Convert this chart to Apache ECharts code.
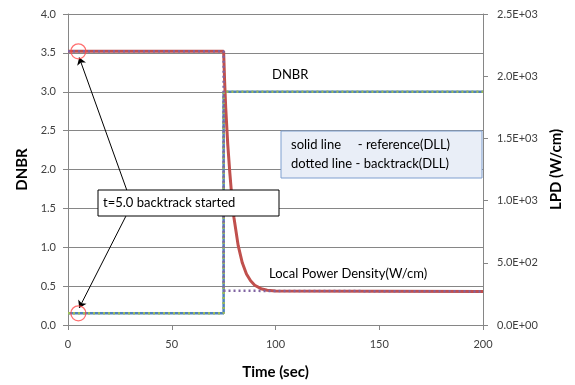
<!DOCTYPE html>
<html>
<head>
<meta charset="utf-8">
<script src="https://cdn.jsdelivr.net/npm/echarts@6/dist/echarts.min.js"></script>
<style>
  html, body { margin: 0; padding: 0; background: #fff; }
  #chart { width: 575px; height: 385px; }
</style>
</head>
<body>
<div id="chart"></div>
<script>
"use strict"

// 数据：时间 (sec)
let dnbrRefData = [[0, 0.15], [75, 0.15], [75, 3.0], [200, 3.0]];
let dnbrBackData = [[0, 0.15], [75, 0.15], [75, 3.0], [200, 3.0]];
let lpdRefData = [
    [0, 2200], [75, 2200], [75.5, 1950], [76, 1750], [77, 1450], [78, 1220],
    [79, 1020], [80, 860], [82, 640], [84, 500], [86, 410], [88, 355],
    [90, 320], [93, 292], [96, 280], [100, 273], [200, 270]
];
let lpdBackData = [[0, 2200], [75, 2200], [75, 275], [200, 270]];
// 回溯开始点 t=5.0
let startPoints = [[5, 3.52], [5, 0.15]];
let lpdTicks = ["0.0E+00", "5.0E+02", "1.0E+03", "1.5E+03", "2.0E+03", "2.5E+03"];

let myChart = echarts.init(document.getElementById("chart"));
let font = "Lato, 'Open Sans', sans-serif";
let axisColor = "#868686";

let option = {
    animation: false,
    textStyle: { fontFamily: font },
    grid: { left: 68, right: 92, top: 14, bottom: 60 },
    xAxis: {
        type: "value",
        min: 0, max: 200, interval: 50,
        name: "Time (sec)",
        nameLocation: "middle",
        nameGap: 40,
        nameTextStyle: { fontSize: 15, fontWeight: "bold", color: "#000" },
        axisLine: { lineStyle: { color: axisColor } },
        axisTick: { show: true, length: 5, lineStyle: { color: axisColor } },
        axisLabel: { fontSize: 11, color: "#404040", margin: 14 },
        splitLine: { show: false }
    },
    yAxis: [{
        type: "value",
        min: 0, max: 4, interval: 0.5,
        name: "DNBR",
        nameLocation: "middle",
        nameRotate: 90,
        nameGap: 38,
        nameTextStyle: { fontSize: 15, fontWeight: "bold", color: "#000" },
        axisLine: { show: true, lineStyle: { color: axisColor } },
        axisTick: { show: true, length: 5, lineStyle: { color: axisColor } },
        axisLabel: { fontSize: 11, color: "#404040", margin: 12, formatter: v => v.toFixed(1) },
        splitLine: { show: true, lineStyle: { color: axisColor, width: 1 } }
    }, {
        type: "value",
        min: 0, max: 2500, interval: 500,
        name: "LPD (W/cm)",
        nameLocation: "middle",
        nameRotate: 90,
        nameGap: 66,
        nameTextStyle: { fontSize: 15, fontWeight: "bold", color: "#000" },
        axisLine: { show: true, lineStyle: { color: axisColor } },
        axisTick: { show: true, length: 5, lineStyle: { color: axisColor } },
        axisLabel: {
            fontSize: 11, color: "#404040", margin: 14,
            formatter: v => lpdTicks[Math.round(v / 500)]
        },
        splitLine: { show: false }
    }],
    series: [{
        name: "DNBR reference",
        type: "line",
        data: dnbrRefData,
        yAxisIndex: 0,
        symbol: "none",
        lineStyle: { color: "#4F81BD", width: 2.5 }
    }, {
        name: "LPD reference",
        type: "line",
        data: lpdRefData,
        yAxisIndex: 1,
        symbol: "none",
        lineStyle: { color: "#C0504D", width: 3 }
    }, {
        name: "DNBR backtrack",
        type: "line",
        data: dnbrBackData,
        yAxisIndex: 0,
        symbol: "none",
        lineStyle: { color: "#9BBB59", width: 2.5, type: [2, 3] }
    }, {
        name: "LPD backtrack",
        type: "line",
        data: lpdBackData,
        yAxisIndex: 1,
        symbol: "none",
        lineStyle: { color: "#8064A2", width: 2.5, type: [2, 3] }
    }, {
        name: "start",
        type: "scatter",
        data: startPoints,
        yAxisIndex: 0,
        symbol: "circle",
        symbolSize: 15,
        itemStyle: { color: "rgba(0,0,0,0)", borderColor: "#FF4B4B", borderWidth: 1.3 },
        z: 5,
        markLine: {
            silent: true,
            symbol: ["none", "arrow"],
            symbolSize: 7,
            label: { show: false },
            lineStyle: { color: "#000", width: 1, type: "solid" },
            data: [
                [{ coord: [28.4, 1.73] }, { coord: [5.4, 3.44] }],
                [{ coord: [27.9, 1.40] }, { coord: [5.4, 0.22] }]
            ]
        }
    }],
    graphic: [{
        type: "rect",
        shape: { x: 98, y: 190, width: 181, height: 26 },
        style: { fill: "#fff", stroke: "#000", lineWidth: 1 },
        z: 10
    }, {
        type: "text",
        x: 103, y: 203,
        style: { text: "t=5.0 backtrack started", font: "13px " + font, fill: "#000", textVerticalAlign: "middle" },
        z: 11
    }, {
        type: "rect",
        shape: { x: 281, y: 131, width: 201, height: 47 },
        style: { fill: "#E9EEF7", stroke: "#7F9FCF", lineWidth: 1 },
        z: 10
    }, {
        type: "text",
        x: 291, y: 145,
        style: { text: "solid line     - reference(DLL)", font: "13px " + font, fill: "#000", textVerticalAlign: "middle" },
        z: 11
    }, {
        type: "text",
        x: 291, y: 164,
        style: { text: "dotted line - backtrack(DLL)", font: "13px " + font, fill: "#000", textVerticalAlign: "middle" },
        z: 11
    }, {
        type: "text",
        x: 272, y: 75,
        style: { text: "DNBR", font: "13px " + font, fill: "#000", textVerticalAlign: "middle" },
        z: 11
    }, {
        type: "text",
        x: 269, y: 274,
        style: { text: "Local Power Density(W/cm)", font: "13px " + font, fill: "#000", textVerticalAlign: "middle" },
        z: 11
    }]
};

myChart.setOption(option);
</script>
</body>
</html>
